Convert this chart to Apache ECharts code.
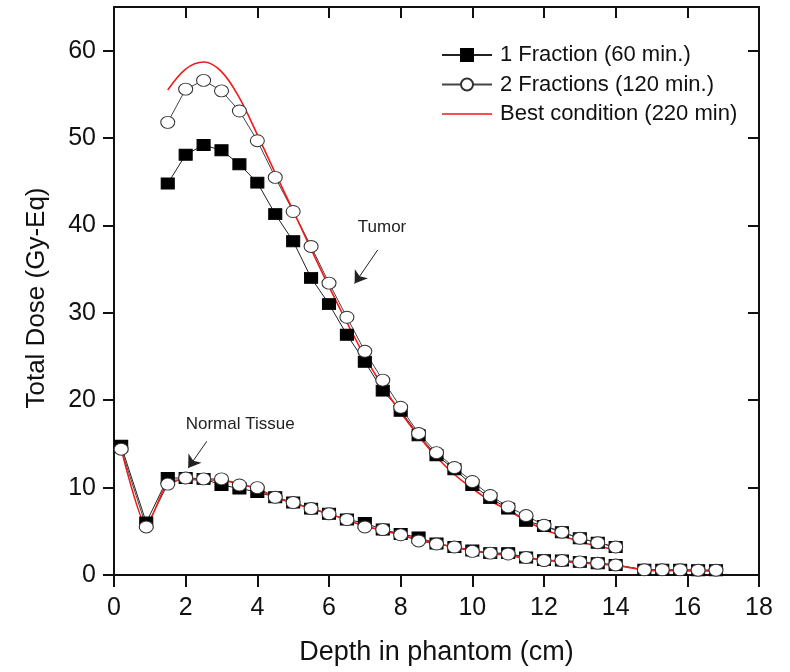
<!DOCTYPE html>
<html>
<head>
<meta charset="utf-8">
<script src="https://cdn.jsdelivr.net/npm/echarts@6/dist/echarts.min.js"></script>
<style>
html,body{margin:0;padding:0;background:#fff;}
#chart{width:790px;height:672px;}
</style>
</head>
<body>
<div id="chart"></div>
<script>
// ---- data ----
const seriesNames = ['1 Fraction (60 min.)', '2 Fractions (120 min.)', 'Best condition (220 min)'];

const tumorDepth = [1.5, 2.0, 2.5, 3.0, 3.5, 4.0, 4.5, 5.0, 5.5, 6.0, 6.5, 7.0, 7.5, 8.0, 8.5, 9.0, 9.5, 10.0, 10.5, 11.0, 11.5, 12.0, 12.5, 13.0, 13.5, 14.0];
const tumorOneFraction = [44.8, 48.1, 49.2, 48.6, 47.0, 44.9, 41.3, 38.2, 34.0, 31.0, 27.5, 24.4, 21.1, 18.8, 16.0, 13.7, 12.1, 10.3, 8.8, 7.6, 6.2, 5.6, 4.9, 4.2, 3.7, 3.2];
const tumorTwoFractions = [51.8, 55.6, 56.6, 55.4, 53.1, 49.7, 45.5, 41.6, 37.6, 33.4, 29.5, 25.6, 22.3, 19.2, 16.2, 14.0, 12.3, 10.7, 9.1, 7.8, 6.8, 5.7, 4.9, 4.2, 3.7, 3.2];
const tumorBest = [55.5, 57.9, 58.7, 57.6, 54.6, 50.4, 46.0, 41.7, 37.3, 33.0, 28.9, 25.0, 21.6, 18.6, 15.9, 13.5, 11.5, 9.9, 8.5, 7.4, 6.2, 5.2, 4.5, 3.8, 3.3, 2.9];

const normalDepth = [0.2, 0.9, 1.5, 2.0, 2.5, 3.0, 3.5, 4.0, 4.5, 5.0, 5.5, 6.0, 6.5, 7.0, 7.5, 8.0, 8.5, 9.0, 9.5, 10.0, 10.5, 11.0, 11.5, 12.0, 12.5, 13.0, 13.5, 14.0, 14.8, 15.3, 15.8, 16.3, 16.8];
const normalOneFraction = [14.8, 6.0, 11.1, 11.1, 11.0, 10.3, 9.9, 9.5, 8.9, 8.3, 7.6, 7.0, 6.35, 5.95, 5.2, 4.7, 4.3, 3.6, 3.2, 2.8, 2.5, 2.5, 2.0, 1.7, 1.65, 1.5, 1.35, 1.15, 0.6, 0.6, 0.6, 0.55, 0.55];
const normalTwoFractions = [14.4, 5.5, 10.4, 11.1, 11.0, 11.0, 10.3, 10.0, 8.9, 8.3, 7.6, 7.0, 6.35, 5.5, 5.2, 4.6, 3.9, 3.55, 3.2, 2.7, 2.5, 2.4, 2.0, 1.65, 1.65, 1.5, 1.35, 1.15, 0.6, 0.6, 0.6, 0.55, 0.55];
const normalBest = [14.4, 5.6, 10.6, 10.9, 10.9, 10.8, 10.5, 9.8, 8.9, 8.2, 7.6, 7.0, 6.3, 5.6, 5.1, 4.6, 4.1, 3.6, 3.2, 2.8, 2.5, 2.2, 1.95, 1.7, 1.55, 1.4, 1.25, 1.1, 0.55, 0.5, 0.5, 0.45, 0.45];

const xTicks = [0, 2, 4, 6, 8, 10, 12, 14, 16, 18];
const yTicks = [0, 10, 20, 30, 40, 50, 60];

// annotations (in data coordinates)
const annTumorText = { name: 'Tumor', at: [7.48, 39.8] };
const annTumorArrow = [[7.36, 37.2], [6.715, 33.35]];
const annNormalText = { name: 'Normal Tissue', at: [3.52, 17.2] };
const annNormalArrow = [[2.59, 15.3], [2.07, 12.24]];

// ---- chart ----
const FONT = '"Liberation Sans", Arial, Helvetica, sans-serif';
const zip = (xs, ys) => xs.map((x, i) => [x, ys[i]]);

const squareStyle = {
  type: 'line', symbol: 'rect', symbolSize: [13, 11], showSymbol: true,
  itemStyle: { color: '#000', borderColor: '#000', borderWidth: 1 },
  lineStyle: { color: '#222', width: 1 }
};
const circleStyle = {
  type: 'line', symbol: 'circle', symbolSize: [14, 12], showSymbol: true,
  itemStyle: { color: '#fff', borderColor: '#333', borderWidth: 1 },
  lineStyle: { color: '#444', width: 1 }
};
const RED = '#f01a1a';
const redStyle = {
  type: 'line', symbol: 'none',
  itemStyle: { color: RED },
  lineStyle: { color: RED, width: 1.6 }
};

const annLine = { color: '#222', width: 1, type: 'solid' };
const annLabel = (fs) => ({ show: true, position: 'inside', color: '#222', fontSize: fs, fontFamily: FONT, formatter: p => p.name });

// plain line legend icon (50 x 15 box, thin bar in the middle)
const lineIcon = 'path://M0,0L0.01,0L0.01,0.01L0,0.01Z M0,6.7L50,6.7L50,8.3L0,8.3Z M49.99,14.99L50,14.99L50,15L49.99,15Z';

const chart = echarts.init(document.getElementById('chart'), null, { renderer: 'canvas' });
chart.setOption({
  animation: false,
  backgroundColor: '#fff',
  grid: { left: 114, right: 31, top: 7, bottom: 97, containLabel: false },
  legend: {
    orient: 'vertical', left: 441, top: 44, padding: 0,
    itemWidth: 50, itemHeight: 15, itemGap: 7.5,
    data: [
      { name: seriesNames[0] },
      { name: seriesNames[1] },
      { name: seriesNames[2], icon: lineIcon, itemStyle: { color: RED } }
    ],
    textStyle: { fontSize: 22, fontFamily: FONT, color: '#111', padding: [0, 0, 0, 3] }
  },
  xAxis: [{
    type: 'value', min: 0, max: 18, interval: 2, position: 'bottom',
    name: 'Depth in phantom (cm)', nameLocation: 'middle', nameGap: 64,
    nameTextStyle: { fontSize: 27, fontFamily: FONT, color: '#111' },
    axisLine: { show: true, onZero: false, lineStyle: { color: '#111', width: 2 } },
    axisTick: { show: true, inside: false, length: 12, lineStyle: { color: '#111', width: 2 } },
    axisLabel: { margin: 21, fontSize: 25, fontFamily: FONT, color: '#111', customValues: xTicks },
    splitLine: { show: false }
  }, {
    type: 'value', min: 0, max: 18, interval: 2, position: 'top',
    axisLine: { show: true, onZero: false, lineStyle: { color: '#111', width: 2 } },
    axisTick: { show: true, inside: true, length: 11, lineStyle: { color: '#111', width: 2 } },
    axisLabel: { show: false },
    splitLine: { show: false }
  }],
  yAxis: [{
    type: 'value', min: 0, max: 65, interval: 10, position: 'left',
    name: 'Total Dose (Gy-Eq)', nameLocation: 'middle', nameGap: 64,
    nameTextStyle: { fontSize: 26, fontFamily: FONT, color: '#111', padding: [0, 14, 0, 0] },
    axisLine: { show: true, onZero: false, lineStyle: { color: '#111', width: 2 } },
    axisTick: { show: true, inside: false, length: 11, lineStyle: { color: '#111', width: 2 }, customValues: yTicks },
    axisLabel: { margin: 18, fontSize: 25, fontFamily: FONT, color: '#111', customValues: yTicks },
    splitLine: { show: false }
  }, {
    type: 'value', min: 0, max: 65, interval: 10, position: 'right',
    axisLine: { show: true, onZero: false, lineStyle: { color: '#111', width: 2 } },
    axisTick: { show: true, inside: true, length: 11, lineStyle: { color: '#111', width: 2 }, customValues: yTicks },
    axisLabel: { show: false },
    splitLine: { show: false }
  }],
  series: [
    Object.assign({}, squareStyle, { name: seriesNames[0], data: zip(tumorDepth, tumorOneFraction) }),
    Object.assign({}, squareStyle, { name: seriesNames[0], data: zip(normalDepth, normalOneFraction) }),
    Object.assign({}, circleStyle, { name: seriesNames[1], data: zip(tumorDepth, tumorTwoFractions) }),
    Object.assign({}, circleStyle, { name: seriesNames[1], data: zip(normalDepth, normalTwoFractions) }),
    Object.assign({}, redStyle, { name: seriesNames[2], smooth: 0.35, data: zip(tumorDepth, tumorBest) }),
    Object.assign({}, redStyle, { name: seriesNames[2], smooth: 0.2, data: zip(normalDepth, normalBest),
      markLine: {
        silent: true, symbol: ['none', 'arrow'], symbolSize: 12,
        lineStyle: annLine, label: { show: false },
        data: [
          [{ coord: annTumorArrow[0] }, { coord: annTumorArrow[1] }],
          [{ coord: annNormalArrow[0] }, { coord: annNormalArrow[1] }]
        ]
      },
      markPoint: {
        silent: true, symbol: 'rect', symbolSize: 1,
        itemStyle: { color: 'rgba(0,0,0,0)' },
        data: [
          { name: annTumorText.name, coord: annTumorText.at, label: annLabel(17) },
          { name: annNormalText.name, coord: annNormalText.at, label: annLabel(17) }
        ]
      }
    })
  ]
});
</script>
</body>
</html>
